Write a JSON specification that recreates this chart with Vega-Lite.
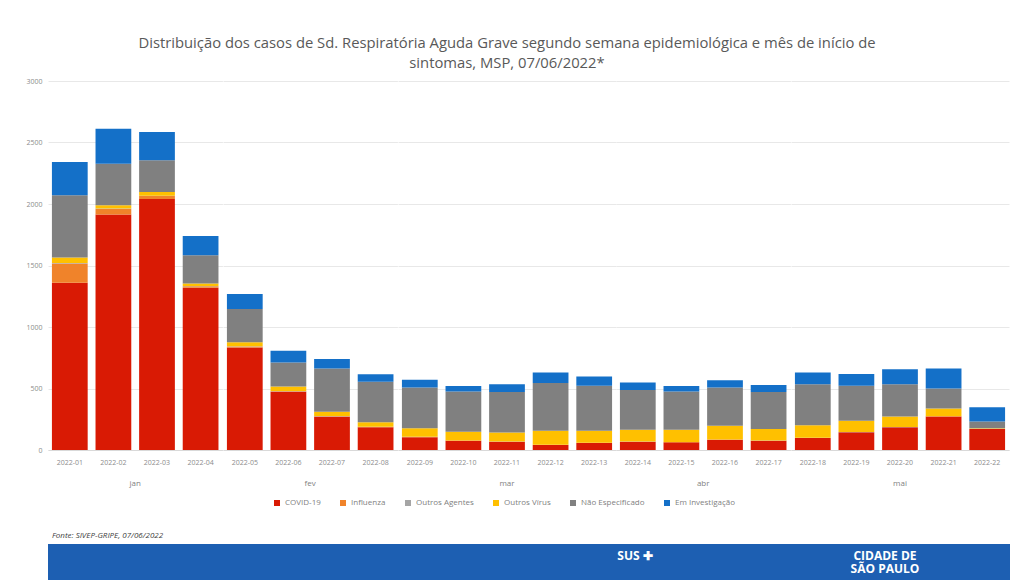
{
  "$schema": "https://vega.github.io/schema/vega-lite/v6.json",
  "padding": {"left": 0, "top": 36, "right": 0, "bottom": 0},
  "background": "white",
  "config": {"font": "Open Sans", "view": {"stroke": null}, "legend": {"layout": {"bottom": {"anchor": "middle"}}}},
  "title": {
    "text": ["Distribuição dos casos de Sd. Respiratória Aguda Grave segundo semana epidemiológica e mês de início de", "sintomas, MSP, 07/06/2022*"],
    "fontSize": 14.8, "fontWeight": "normal", "color": "#595959", "anchor": "middle", "lineHeight": 20, "offset": 6, "dx": 2
  },
  "resolve": {"scale": {"color": "independent"}},
  "columns": 1,
  "align": "none",
  "spacing": 25,
  "concat": [
    {
      "data": {"values": [
        {"semana": "2022-01", "mes": "jan", "COVID-19": 1360, "Influenza": 157, "Outros Agentes": 3, "Outros Vírus": 46, "Não Especificado": 505, "Em Investigação": 270},
        {"semana": "2022-02", "mes": "jan", "COVID-19": 1914, "Influenza": 46, "Outros Agentes": 3, "Outros Vírus": 27, "Não Especificado": 338, "Em Investigação": 284},
        {"semana": "2022-03", "mes": "jan", "COVID-19": 2041, "Influenza": 24, "Outros Agentes": 3, "Outros Vírus": 30, "Não Especificado": 257, "Em Investigação": 230},
        {"semana": "2022-04", "mes": "jan", "COVID-19": 1319, "Influenza": 12, "Outros Agentes": 2, "Outros Vírus": 20, "Não Especificado": 230, "Em Investigação": 157},
        {"semana": "2022-05", "mes": "fev", "COVID-19": 833, "Influenza": 8, "Outros Agentes": 2, "Outros Vírus": 33, "Não Especificado": 270, "Em Investigação": 122},
        {"semana": "2022-06", "mes": "fev", "COVID-19": 473, "Influenza": 5, "Outros Agentes": 2, "Outros Vírus": 37, "Não Especificado": 195, "Em Investigação": 94},
        {"semana": "2022-07", "mes": "fev", "COVID-19": 270, "Influenza": 4, "Outros Agentes": 2, "Outros Vírus": 35, "Não Especificado": 352, "Em Investigação": 76},
        {"semana": "2022-08", "mes": "fev", "COVID-19": 184, "Influenza": 3, "Outros Agentes": 2, "Outros Vírus": 36, "Não Especificado": 329, "Em Investigação": 62},
        {"semana": "2022-09", "mes": "mar", "COVID-19": 103, "Influenza": 2, "Outros Agentes": 2, "Outros Vírus": 69, "Não Especificado": 333, "Em Investigação": 62},
        {"semana": "2022-10", "mes": "mar", "COVID-19": 75, "Influenza": 2, "Outros Agentes": 1, "Outros Vírus": 70, "Não Especificado": 328, "Em Investigação": 45},
        {"semana": "2022-11", "mes": "mar", "COVID-19": 67, "Influenza": 1, "Outros Agentes": 1, "Outros Vírus": 74, "Não Especificado": 329, "Em Investigação": 62},
        {"semana": "2022-12", "mes": "mar", "COVID-19": 41, "Influenza": 1, "Outros Agentes": 1, "Outros Vírus": 114, "Não Especificado": 387, "Em Investigação": 87},
        {"semana": "2022-13", "mes": "mar", "COVID-19": 57, "Influenza": 1, "Outros Agentes": 1, "Outros Vírus": 98, "Não Especificado": 365, "Em Investigação": 76},
        {"semana": "2022-14", "mes": "abr", "COVID-19": 67, "Influenza": 1, "Outros Agentes": 1, "Outros Vírus": 95, "Não Especificado": 324, "Em Investigação": 60},
        {"semana": "2022-15", "mes": "abr", "COVID-19": 62, "Influenza": 1, "Outros Agentes": 1, "Outros Vírus": 100, "Não Especificado": 311, "Em Investigação": 45},
        {"semana": "2022-16", "mes": "abr", "COVID-19": 84, "Influenza": 1, "Outros Agentes": 1, "Outros Vírus": 112, "Não Especificado": 311, "Em Investigação": 59},
        {"semana": "2022-17", "mes": "abr", "COVID-19": 75, "Influenza": 1, "Outros Agentes": 1, "Outros Vírus": 93, "Não Especificado": 302, "Em Investigação": 57},
        {"semana": "2022-18", "mes": "mai", "COVID-19": 97, "Influenza": 1, "Outros Agentes": 1, "Outros Vírus": 103, "Não Especificado": 333, "Em Investigação": 95},
        {"semana": "2022-19", "mes": "mai", "COVID-19": 144, "Influenza": 1, "Outros Agentes": 1, "Outros Vírus": 92, "Não Especificado": 284, "Em Investigação": 95},
        {"semana": "2022-20", "mes": "mai", "COVID-19": 184, "Influenza": 1, "Outros Agentes": 1, "Outros Vírus": 87, "Não Especificado": 262, "Em Investigação": 122},
        {"semana": "2022-21", "mes": "mai", "COVID-19": 273, "Influenza": 1, "Outros Agentes": 1, "Outros Vírus": 63, "Não Especificado": 162, "Em Investigação": 162},
        {"semana": "2022-22", "mes": "mai", "COVID-19": 170, "Influenza": 1, "Outros Agentes": 1, "Outros Vírus": 5, "Não Especificado": 54, "Em Investigação": 117}
      ]},
      "transform": [
        {"fold": ["COVID-19", "Influenza", "Outros Agentes", "Outros Vírus", "Não Especificado", "Em Investigação"], "as": ["categoria", "casos"]},
        {"window": [{"op": "row_number", "as": "ordem"}], "groupby": ["semana"]}
      ],
      "facet": {
        "column": {
          "field": "mes", "type": "nominal", "sort": ["jan", "fev", "mar", "abr", "mai"],
          "header": {"title": null, "labelOrient": "bottom", "labelFontSize": 8, "labelColor": "#7f7f7f", "labelPadding": 15}
        }
      },
      "spacing": 0,
      "resolve": {"scale": {"x": "independent"}},
      "spec": {
        "width": {"step": 43.6},
        "height": 369,
        "mark": {"type": "bar"},
        "encoding": {
          "x": {
            "field": "semana", "type": "ordinal",
            "scale": {"paddingInner": 0.18, "paddingOuter": 0.09},
            "axis": {"title": null, "labelAngle": 0, "labelFontSize": 7, "labelColor": "#8c8c8c", "ticks": false, "domainColor": "#d9d9d9", "labelPadding": 8}
          },
          "y": {
            "field": "casos", "type": "quantitative", "stack": "zero",
            "scale": {"domain": [0, 3000], "nice": false},
            "axis": {"title": null, "values": [0, 500, 1000, 1500, 2000, 2500, 3000], "format": "d", "labelFontSize": 7, "labelColor": "#8c8c8c", "ticks": false, "domain": false, "gridColor": "#e8e8e8", "minExtent": 48, "labelPadding": 6}
          },
          "order": {"field": "ordem", "type": "quantitative"},
          "color": {
            "field": "categoria", "type": "nominal",
            "scale": {
              "domain": ["COVID-19", "Influenza", "Outros Agentes", "Outros Vírus", "Não Especificado", "Em Investigação"],
              "range": ["#D91A04", "#F0832A", "#A5A5A5", "#FFC000", "#808080", "#1470C8"]
            },
            "legend": {"orient": "bottom", "direction": "horizontal", "title": null, "symbolType": "square", "symbolSize": 36, "symbolStrokeWidth": 0, "labelFontSize": 8, "labelColor": "#7f7f7f", "columnPadding": 18, "offset": 11}
          }
        }
      }
    },
    {
      "width": 962,
      "height": 36,
      "view": {"fill": "#1d5fb2", "stroke": null},
      "title": {"text": "Fonte: SIVEP-GRIPE, 07/06/2022", "anchor": "start", "fontSize": 8, "fontStyle": "italic", "fontWeight": "normal", "color": "#404040", "dx": 4, "offset": 4},
      "data": {"values": [{"logo": "SUS ✚"}, {"logo": "CIDADE DE\nSÃO PAULO"}]},
      "mark": {"type": "text", "color": "white", "fontWeight": "bold", "fontSize": 12, "lineBreak": "\n", "lineHeight": 13, "dy": -6},
      "encoding": {
        "x": {"field": "logo", "type": "nominal", "sort": null, "scale": {"type": "band", "paddingInner": 0, "paddingOuter": 0.924, "align": 1}, "axis": null},
        "text": {"field": "logo"}
      }
    }
  ]
}
